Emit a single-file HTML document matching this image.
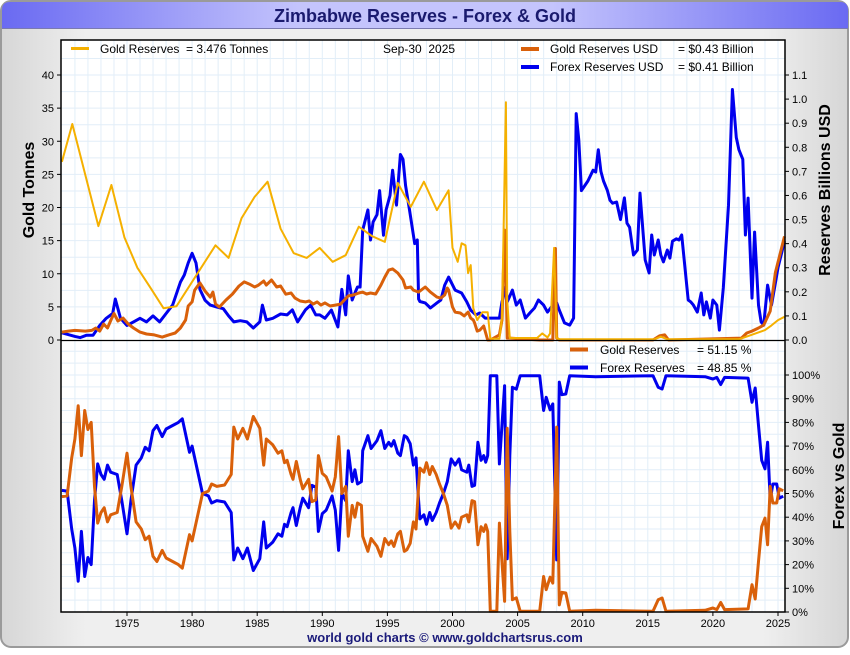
<!DOCTYPE html>
<html><head><meta charset="utf-8"><style>
body{margin:0;width:850px;height:650px;overflow:hidden;background:#fff;font-family:"Liberation Sans",sans-serif}
svg text{font-family:"Liberation Sans",sans-serif;white-space:pre}
</style></head><body>
<svg id="chart" width="850" height="650" viewBox="0 0 850 650">
<defs>
<linearGradient id="tb" x1="0" x2="1" y1="0" y2="0"><stop offset="0" stop-color="#6a6af2"/><stop offset="0.35" stop-color="#c4c4fc"/><stop offset="0.65" stop-color="#c4c4fc"/><stop offset="1" stop-color="#6a6af2"/></linearGradient>
<linearGradient id="bg" x1="0" x2="1" y1="0" y2="0"><stop offset="0" stop-color="#d6d6d6"/><stop offset="0.1" stop-color="#efefef"/><stop offset="0.9" stop-color="#efefef"/><stop offset="1" stop-color="#d6d6d6"/></linearGradient>
</defs>
<rect x="1" y="1" width="847" height="646" rx="10" fill="url(#bg)" stroke="#9a9a9a" stroke-width="2"/>
<path d="M2 28 L2 10 Q2 2 10 2 L840 2 Q848 2 848 10 L848 28 Z" fill="url(#tb)"/>
<line x1="2" y1="28.5" x2="848" y2="28.5" stroke="#7a7ab0"/>
<text x="425" y="22" text-anchor="middle" font-size="18" font-weight="bold" fill="#1a1a6e">Zimbabwe Reserves - Forex &amp; Gold</text>
<rect x="61" y="40" width="724" height="572" fill="#fff"/>
<g id="grid"></g>
<g id="series"></g>
<rect x="61" y="40" width="724" height="572" fill="none" stroke="#000" stroke-width="1.5"/>
<line x1="61" y1="340.5" x2="785" y2="340.5" stroke="#000" stroke-width="1.2"/>
<g id="axes"></g>
<text transform="translate(34,190) rotate(-90)" text-anchor="middle" font-size="16" font-weight="bold">Gold Tonnes</text>
<text transform="translate(830,190) rotate(-90)" text-anchor="middle" font-size="16" font-weight="bold">Reserves Billions USD</text>
<text transform="translate(844,476) rotate(-90)" text-anchor="middle" font-size="16" font-weight="bold">Forex vs Gold</text>
<text x="445" y="642" text-anchor="middle" font-size="13" font-weight="bold" fill="#1a1a7a">world gold charts © www.goldchartsrus.com</text>
<g>
<line x1="71" y1="48.5" x2="89" y2="48.5" stroke="#f5b000" stroke-width="3"/>
<text x="100" y="53" font-size="12">Gold Reserves  = 3.476 Tonnes</text>
<text x="383" y="53" font-size="12">Sep-30  2025</text>
<line x1="521" y1="49" x2="539" y2="49" stroke="#d9600a" stroke-width="4"/>
<text x="550" y="53" font-size="12">Gold Reserves USD</text>
<text x="678" y="53" font-size="12">= $0.43 Billion</text>
<line x1="521" y1="67" x2="539" y2="67" stroke="#0000ee" stroke-width="4"/>
<text x="550" y="71" font-size="12">Forex Reserves USD</text>
<text x="678" y="71" font-size="12">= $0.41 Billion</text>
</g>
<g>
<line x1="570" y1="349.5" x2="588" y2="349.5" stroke="#d9600a" stroke-width="4"/>
<text x="600" y="354" font-size="12">Gold Reserves</text>
<text x="697" y="354" font-size="12">= 51.15 %</text>
<line x1="570" y1="367.5" x2="588" y2="367.5" stroke="#0000ee" stroke-width="4"/>
<text x="600" y="372" font-size="12">Forex Reserves</text>
<text x="697" y="372" font-size="12">= 48.85 %</text>
</g>
</svg>
<script>
const xTickYears=[1975,1980,1985,1990,1995,2000,2005,2010,2015,2020,2025];
const tonneTicks=[0,5,10,15,20,25,30,35,40];
const usdTicks=[0,0.1,0.2,0.3,0.4,0.5,0.6,0.7,0.8,0.9,1.0,1.1];
const pctTicks=[0,10,20,30,40,50,60,70,80,90,100];
const goldTonneT=[1970.0,1970.8,1972.8,1973.8,1974.8,1975.8,1976.8,1977.8,1978.8,1981.8,1982.8,1983.8,1984.8,1985.8,1986.8,1987.8,1988.8,1989.8,1990.8,1991.8,1992.8,1993.8,1994.8,1995.8,1996.8,1997.8,1998.8,1999.7,2000.0,2000.4,2000.7,2001.0,2001.2,2001.4,2001.6,2001.9,2002.3,2002.7,2002.9,2003.6,2003.8,2004.1,2004.2,2004.4,2006.5,2006.9,2007.3,2007.5,2007.8,2008.0,2008.2,2009.0,2015.5,2016.0,2016.5,2022.0,2024.0,2024.5,2025.0,2025.5];
const goldTonneV=[26.9,32.6,17.2,23.4,15.5,10.9,7.9,4.8,5.1,14.3,12.4,18.4,21.6,23.9,16.8,13.1,12.4,13.9,11.8,12.8,17.1,15.7,14.8,23.7,20.1,23.9,19.6,22.6,13.9,11.8,14.6,14.3,10.1,11.3,4.8,3.0,4.2,4.2,0.2,0.2,3.3,35.9,6.0,0.3,0.3,1.0,0.4,1.0,13.9,0.3,0.1,0.1,0.1,0.5,0.1,0.1,1.5,2.2,3.0,3.5];
const forexT=[1970.0,1971.0,1971.4,1971.9,1972.4,1972.9,1973.4,1973.9,1974.1,1974.5,1975.0,1975.5,1976.0,1976.5,1977.0,1977.5,1978.0,1978.5,1979.1,1979.4,1979.7,1980.0,1980.3,1980.6,1981.0,1981.4,1981.9,1982.4,1982.8,1983.2,1983.7,1984.2,1984.7,1985.2,1985.4,1985.7,1986.2,1986.8,1987.3,1987.7,1988.1,1988.7,1989.1,1989.5,1989.8,1990.2,1990.7,1991.2,1991.5,1991.8,1992.0,1992.3,1992.5,1992.7,1992.9,1993.1,1993.5,1993.7,1993.9,1994.2,1994.4,1994.7,1994.9,1995.2,1995.4,1995.7,1996.0,1996.2,1996.4,1996.7,1997.0,1997.1,1997.3,1997.4,1997.5,1997.9,1998.3,1998.8,1999.1,1999.4,1999.7,2000.2,2000.7,2001.1,2001.4,2001.8,2002.1,2002.5,2003.1,2003.6,2003.8,2004.1,2004.2,2004.6,2004.9,2005.2,2005.6,2006.0,2006.3,2006.6,2007.0,2007.3,2007.7,2008.0,2008.2,2008.6,2009.0,2009.3,2009.5,2009.7,2009.9,2010.4,2010.8,2011.0,2011.2,2011.4,2011.6,2011.9,2012.1,2012.3,2012.6,2012.9,2013.2,2013.4,2013.6,2013.9,2014.2,2014.4,2014.8,2015.1,2015.3,2015.5,2015.8,2016.0,2016.2,2016.5,2016.7,2016.9,2017.2,2017.4,2017.6,2018.1,2018.3,2018.5,2018.8,2019.1,2019.3,2019.5,2019.8,2020.0,2020.3,2020.5,2020.8,2021.2,2021.5,2021.8,2022.0,2022.3,2022.5,2022.7,2023.0,2023.2,2023.5,2023.7,2023.9,2024.2,2024.5,2024.8,2025.0,2025.5];
const forexV=[0.03,0.015,0.01,0.02,0.02,0.06,0.09,0.11,0.17,0.09,0.06,0.075,0.09,0.075,0.10,0.075,0.11,0.145,0.24,0.27,0.32,0.36,0.32,0.21,0.165,0.145,0.137,0.13,0.10,0.075,0.08,0.075,0.05,0.075,0.145,0.083,0.09,0.108,0.104,0.125,0.075,0.125,0.145,0.104,0.104,0.09,0.124,0.054,0.21,0.104,0.266,0.166,0.195,0.22,0.22,0.456,0.54,0.415,0.49,0.52,0.62,0.435,0.54,0.60,0.705,0.56,0.77,0.75,0.64,0.54,0.435,0.40,0.415,0.17,0.16,0.154,0.133,0.154,0.166,0.228,0.261,0.207,0.195,0.158,0.124,0.104,0.112,0.091,0.091,0.091,0.158,0.22,0.158,0.207,0.145,0.166,0.091,0.116,0.133,0.166,0.145,0.116,0.145,0.154,0.124,0.071,0.062,0.091,0.94,0.83,0.62,0.66,0.705,0.697,0.79,0.70,0.66,0.62,0.58,0.568,0.573,0.50,0.59,0.485,0.468,0.353,0.373,0.61,0.332,0.278,0.436,0.353,0.415,0.353,0.324,0.373,0.34,0.41,0.42,0.415,0.436,0.166,0.158,0.145,0.116,0.195,0.104,0.158,0.091,0.166,0.145,0.041,0.216,0.56,1.04,0.84,0.79,0.75,0.436,0.589,0.174,0.448,0.145,0.075,0.062,0.228,0.145,0.237,0.30,0.41];
const goldUsdT=[1970.0,1970.5,1971.0,1971.8,1972.3,1972.6,1972.9,1973.2,1973.5,1973.8,1974.0,1974.3,1974.7,1975.1,1975.5,1976.0,1976.5,1977.1,1977.7,1978.2,1978.7,1979.1,1979.5,1979.7,1980.0,1980.2,1980.6,1981.0,1981.4,1981.6,1981.8,1982.1,1982.6,1983.1,1983.6,1984.0,1984.4,1984.8,1985.1,1985.5,1985.7,1986.1,1986.5,1986.8,1987.2,1987.6,1987.9,1988.3,1988.7,1989.0,1989.3,1989.6,1989.9,1990.2,1990.6,1991.0,1991.4,1991.7,1992.0,1992.4,1992.8,1993.1,1993.4,1993.7,1994.1,1994.5,1994.8,1995.1,1995.4,1995.8,1996.2,1996.4,1996.8,1997.0,1997.4,1997.9,1998.3,1998.8,1999.1,1999.4,1999.6,1999.7,2000.0,2000.2,2000.6,2000.9,2001.2,2001.4,2001.6,2001.7,2001.9,2002.1,2002.4,2002.7,2002.9,2003.6,2003.8,2004.0,2004.1,2004.2,2004.4,2006.7,2007.7,2007.9,2008.0,2008.2,2008.5,2015.4,2015.9,2016.3,2016.6,2022.2,2022.6,2023.0,2023.5,2023.9,2024.4,2024.8,2025.5];
const goldUsdV=[0.033,0.037,0.04,0.037,0.04,0.05,0.037,0.066,0.05,0.087,0.11,0.079,0.091,0.066,0.05,0.033,0.025,0.021,0.012,0.021,0.029,0.05,0.083,0.141,0.158,0.207,0.237,0.203,0.178,0.199,0.149,0.137,0.166,0.191,0.224,0.241,0.232,0.22,0.228,0.245,0.228,0.249,0.22,0.224,0.19,0.195,0.174,0.162,0.158,0.162,0.149,0.158,0.145,0.154,0.141,0.145,0.149,0.166,0.183,0.187,0.195,0.199,0.191,0.195,0.191,0.228,0.261,0.29,0.295,0.278,0.249,0.216,0.22,0.207,0.199,0.22,0.199,0.178,0.174,0.187,0.216,0.207,0.137,0.116,0.112,0.1,0.116,0.091,0.083,0.071,0.037,0.041,0.058,0.0,0.0,0.021,0.083,0.456,0.29,0.008,0.008,0.0,0.0,0.38,0.008,0.0,0.0,0.0,0.017,0.021,0.0,0.008,0.029,0.037,0.05,0.062,0.12,0.28,0.43];
const goldPctT=[1970.0,1970.4,1970.75,1971.0,1971.25,1971.5,1971.75,1972.0,1972.25,1972.5,1972.75,1973.0,1973.25,1973.5,1973.75,1974.25,1974.6,1975.0,1975.3,1975.7,1976.1,1976.4,1976.7,1977.0,1977.3,1977.7,1978.0,1978.5,1978.95,1979.25,1979.8,1980.0,1980.8,1981.25,1981.5,1981.9,1982.5,1983.0,1983.2,1983.5,1983.9,1984.25,1984.7,1985.2,1985.5,1985.7,1986.2,1986.6,1986.9,1987.1,1987.3,1987.6,1987.75,1988.0,1988.3,1988.5,1988.95,1989.2,1989.5,1989.7,1990.0,1990.3,1990.75,1991.0,1991.25,1991.5,1991.8,1992.0,1992.3,1992.5,1992.7,1993.0,1993.1,1993.5,1993.75,1994.2,1994.5,1994.8,1995.1,1995.3,1995.5,1995.8,1996.0,1996.3,1996.5,1996.75,1997.0,1997.2,1997.4,1997.5,1997.8,1998.0,1998.25,1998.45,1998.75,1999.0,1999.3,1999.6,1999.9,2000.2,2000.5,2000.7,2001.1,2001.25,2001.5,2001.7,2001.95,2002.2,2002.4,2002.55,2002.7,2002.9,2003.4,2003.6,2004.0,2004.2,2004.4,2004.6,2004.9,2005.2,2006.7,2007.0,2007.2,2007.5,2007.7,2008.0,2008.2,2008.4,2008.7,2009.0,2011.0,2015.4,2015.8,2016.1,2016.4,2019.4,2020.0,2020.3,2020.6,2020.9,2022.7,2023.0,2023.25,2023.5,2023.75,2024.0,2024.2,2024.4,2024.6,2024.9,2025.1,2025.4];
const goldPctV=[48.7,49,65,73,87,66,85,77,80,53,37.5,42,44,38,41,42,53,67,53,38,35,30.5,32,23.5,21.3,26,22.8,21.3,20,18.5,32.6,30,50,51,54,53,53.6,58,78,73,77.5,73,82.5,77.5,62,73,70.5,67,68,63,64,58,56,63.5,56,52,56,46.6,47.3,66,58.5,57,51,57,74,50,53,32,45,40,46,45,32,25.6,31,27.7,23.5,31,28.4,30,27.7,33,34,25.6,26.3,29,38,35,53,60.7,59,63,58,61.4,58,54,50,45,35.4,38,35.4,40,41,38,47,46.6,28.4,36,34,36.8,34,0.3,0.3,37.5,4.5,77.5,34,5.2,6,0.3,0.3,15,9.4,14.7,12.2,78,3,8.3,8,0.3,0.7,0.3,5.2,5.9,0.3,0.7,1.7,1,4,1,1.3,11.5,5.5,21.3,36,39.6,28.4,53,46,46,52,51.15];

const NS='http://www.w3.org/2000/svg';
const L=61,R=785,T=40,MID=340,B=612;
function xS(t){return 127+(t-1975)*13.02;}
function yTon(v){return MID-v*6.625;}
function yUsd(v){return MID-v*240.9;}
function yPct(v){return B-v*2.37;}
function mk(tag,attrs,parent){const e=document.createElementNS(NS,tag);for(const k in attrs)e.setAttribute(k,attrs[k]);parent.appendChild(e);return e;}
const grid=document.getElementById('grid'),axes=document.getElementById('axes'),series=document.getElementById('series');
for(let yr=1971;yr<=2025;yr++){const x=xS(yr);const g=mk('line',{x1:x,x2:x,y1:T,y2:B,stroke:'#e2eef8','stroke-width':1},grid);

}
for(let v=2.5;v<=42.5;v+=2.5){const y=yTon(v);if(y<T)break;const g=mk('line',{x1:L,x2:R,y1:y,y2:y,stroke:'#e2eef8','stroke-width':1},grid);

}
for(let v=5;v<=110;v+=5){const y=yPct(v);if(y<=MID)break;const g=mk('line',{x1:L,x2:R,y1:y,y2:y,stroke:'#e2eef8','stroke-width':1},grid);

}
function line(ts,vs,yf,color,w,name){const d=ts.map((t,i)=>(i?'L':'M')+xS(t).toFixed(1)+' '+yf(vs[i]).toFixed(1)).join(' ');const p=mk('path',{d:d,fill:'none',stroke:color,'stroke-width':w,'stroke-linejoin':'round'},series);

}
line(forexT,forexV,yUsd,'#0000ee',3,'forex-usd-line');
line(goldUsdT,goldUsdV,yUsd,'#d9600a',3,'gold-usd-line');
line(goldTonneT,goldTonneV,yTon,'#f5b000',2,'gold-tonnes-line');
line(goldPctT,goldPctV.map(v=>100-v),yPct,'#0000ee',3,'forex-pct-line');
line(goldPctT,goldPctV,yPct,'#d9600a',3,'gold-pct-line');
xTickYears.forEach(yr=>{const x=xS(yr);mk('line',{x1:x,x2:x,y1:B,y2:B+4,stroke:'#000'},axes);
const t=mk('text',{x:x,y:B+15,'text-anchor':'middle','font-size':11},axes);t.textContent=yr;

});
tonneTicks.forEach(v=>{const y=yTon(v);mk('line',{x1:L-4,x2:L,y1:y,y2:y,stroke:'#000'},axes);
const t=mk('text',{x:L-7,y:y+4,'text-anchor':'end','font-size':11},axes);t.textContent=v;

});
usdTicks.forEach(v=>{const y=yUsd(v);mk('line',{x1:R,x2:R+4,y1:y,y2:y,stroke:'#000'},axes);
const t=mk('text',{x:R+7,y:y+4,'font-size':11},axes);t.textContent=v.toFixed(1);

});
pctTicks.forEach(v=>{const y=yPct(v);mk('line',{x1:R,x2:R+4,y1:y,y2:y,stroke:'#000'},axes);
const t=mk('text',{x:R+7,y:y+4,'font-size':11},axes);t.textContent=v+'%';

});
</script>
</body></html>
